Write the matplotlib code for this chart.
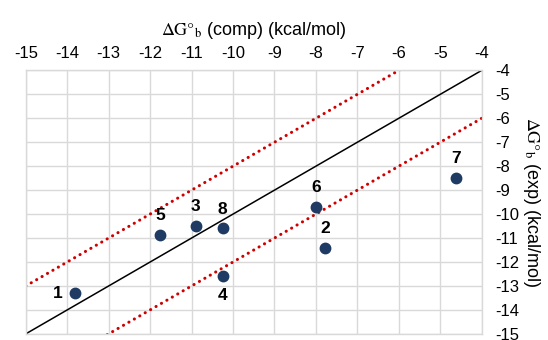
import matplotlib
matplotlib.use("Agg")
import matplotlib.pyplot as plt
import numpy as np

plt.rcParams['font.family'] = ['Liberation Sans', 'DejaVu Sans']
plt.rcParams['mathtext.fontset'] = 'stix'
plt.rcParams['axes.unicode_minus'] = False

labels = ["1", "2", "3", "4", "5", "6", "7", "8"]
dg_comp = [-13.82, -7.78, -10.90, -10.25, -11.75, -7.99, -4.61, -10.25]
dg_exp = [-13.31, -11.40, -10.51, -12.60, -10.89, -9.71, -8.51, -10.60]
label_pos = ["left", "above", "above", "below", "above", "above", "above", "above"]

x_ticks = list(range(-15, -3))
y_ticks = list(range(-15, -3))
band = 2.0

fig = plt.figure(figsize=(5.48, 3.40), dpi=100)
ax = fig.add_axes([0.047, 0.018, 0.832, 0.775])

ax.set_xlim(-15, -4)
ax.set_ylim(-15, -4)
ax.set_xticks(x_ticks)
ax.set_yticks(y_ticks)
ax.xaxis.tick_top()
ax.yaxis.tick_right()
ax.xaxis.set_label_position('top')
ax.yaxis.set_label_position('right')
ax.tick_params(axis='x', length=0, labelsize=12, pad=7, colors='black')
ax.tick_params(axis='y', length=0, labelsize=12, pad=10, colors='black')
ax.grid(True, color='#d9d9d9', linewidth=1.0)
ax.set_axisbelow(True)
for s in ax.spines.values():
    s.set_color('#d9d9d9')
    s.set_linewidth(1.0)

xx = np.array([-15, -4])
ax.plot(xx, xx, color='black', linewidth=1.1, zorder=2)
ax.plot(xx, xx + band, color='#d00000', linewidth=2.2, linestyle=(0, (0.05, 2.0)),
        dash_capstyle='round', zorder=2)
ax.plot(xx, xx - band, color='#d00000', linewidth=2.2, linestyle=(0, (0.05, 2.0)),
        dash_capstyle='round', zorder=2)

ax.plot(dg_comp, dg_exp, linestyle='none', marker='o', markersize=7.5,
        color='#1f3b63', zorder=3)

offsets = {"left": (-12, 0), "above": (0, 14), "below": (0, -14)}
for lab, x, y, p in zip(labels, dg_comp, dg_exp, label_pos):
    ax.annotate(lab, (x, y), xytext=offsets[p], textcoords='offset points',
                ha='center', va='center', fontsize=12.5, fontweight='bold', zorder=4)

ax.set_xlabel(r'$\Delta\mathrm{G°}_{\mathrm{b}}$ (comp) (kcal/mol)', fontsize=13, labelpad=8)
ax.set_ylabel(r'$\Delta\mathrm{G°}_{\mathrm{b}}$ (exp) (kcal/mol)', fontsize=13,
              rotation=270, labelpad=16)

fig.savefig('out.png', dpi=100)
